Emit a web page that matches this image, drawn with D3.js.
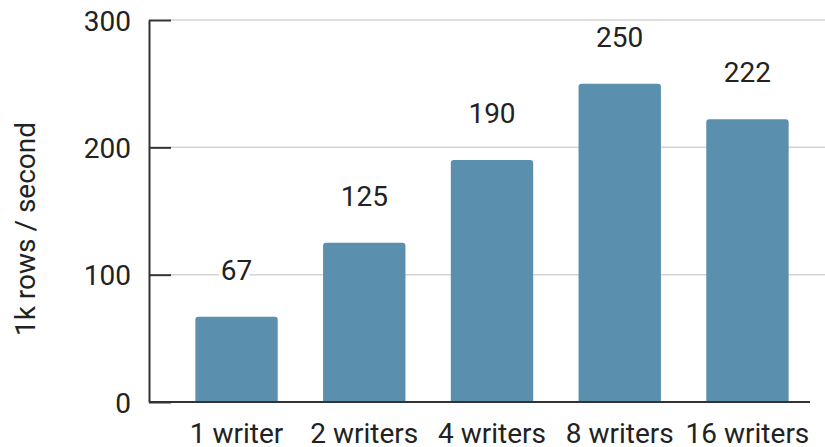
<!DOCTYPE html>
<html>
<head>
<meta charset="utf-8">
<script src="https://cdn.jsdelivr.net/npm/d3@7"></script>
<style>
  html, body { margin: 0; padding: 0; background: #fff; }
  svg { display: block; font-family: Roboto, "Noto Sans", sans-serif; }
</style>
</head>
<body>
<svg id="chart" width="825" height="447"></svg>
<script>
// Throughput by number of writers
const categories = ["1 writer", "2 writers", "4 writers", "8 writers", "16 writers"];
const values = [67, 125, 190, 250, 222];
const yTicks = [0, 100, 200, 300];
const yTitle = "1k rows / second";

const svg = d3.select("#chart");
const width = 825, height = 447;
const axisX = 149, baseY = 402, topY = 20;
const fontSize = 28;

const x = d3.scaleBand()
  .domain(categories)
  .range([150, 834])
  .paddingInner(0.355)
  .paddingOuter(0.355);

const y = d3.scaleLinear()
  .domain([0, 300])
  .range([baseY, topY]);

// Grid lines
svg.append("g")
  .selectAll("line")
  .data(yTicks.filter(d => d > 0))
  .join("line")
  .attr("x1", axisX + 22)
  .attr("x2", width)
  .attr("y1", d => y(d))
  .attr("y2", d => y(d))
  .attr("stroke", "#d3d3d3")
  .attr("stroke-width", 1.5);

// Bars with slightly rounded tops
const r = 3;
svg.append("g")
  .selectAll("path")
  .data(values)
  .join("path")
  .attr("fill", "#5a90ae")
  .attr("d", (d, i) => {
    const x0 = x(categories[i]), w = x.bandwidth();
    const y0 = y(d), yb = y(0);
    return `M${x0},${yb} V${y0 + r} Q${x0},${y0} ${x0 + r},${y0} H${x0 + w - r} Q${x0 + w},${y0} ${x0 + w},${y0 + r} V${yb} Z`;
  });

// Left axis with inward ticks
const yAxis = d3.axisLeft(y).tickValues(yTicks).tickSize(-22).tickSizeOuter(0);
const gy = svg.append("g")
  .attr("transform", `translate(${axisX},0)`)
  .call(yAxis);
gy.select(".domain").attr("stroke", "#333").attr("stroke-width", 2);
gy.selectAll(".tick line").attr("stroke", "#333").attr("stroke-width", 2);
gy.selectAll(".tick text")
  .attr("font-size", fontSize)
  .attr("font-family", "Roboto, sans-serif")
  .attr("fill", "#222")
  .attr("x", -18)
  .attr("dy", "0.36em");

// Baseline
svg.append("line")
  .attr("x1", axisX)
  .attr("x2", width - 15)
  .attr("y1", y(0))
  .attr("y2", y(0))
  .attr("stroke", "#333")
  .attr("stroke-width", 2);

// Category labels
const xAxis = d3.axisBottom(x).tickSize(0).tickPadding(0);
const gx = svg.append("g")
  .attr("transform", `translate(0,${y(0)})`)
  .call(xAxis);
gx.select(".domain").remove();
gx.selectAll(".tick text")
  .attr("font-size", fontSize)
  .attr("font-family", "Roboto, sans-serif")
  .attr("fill", "#222")
  .attr("y", 41)
  .attr("dy", 0);

// Value labels
svg.append("g")
  .selectAll("text")
  .data(values)
  .join("text")
  .attr("x", (d, i) => x(categories[i]) + x.bandwidth() / 2)
  .attr("y", d => y(d) - 37)
  .attr("text-anchor", "middle")
  .attr("font-size", fontSize)
  .attr("fill", "#222")
  .attr("stroke", "#fff")
  .attr("stroke-width", 8)
  .attr("paint-order", "stroke")
  .text(d => d);

// Y axis title
svg.append("text")
  .attr("transform", `translate(35,229) rotate(-90)`)
  .attr("text-anchor", "middle")
  .attr("font-size", fontSize)
  .attr("fill", "#222")
  .text(yTitle);
</script>
</body>
</html>
